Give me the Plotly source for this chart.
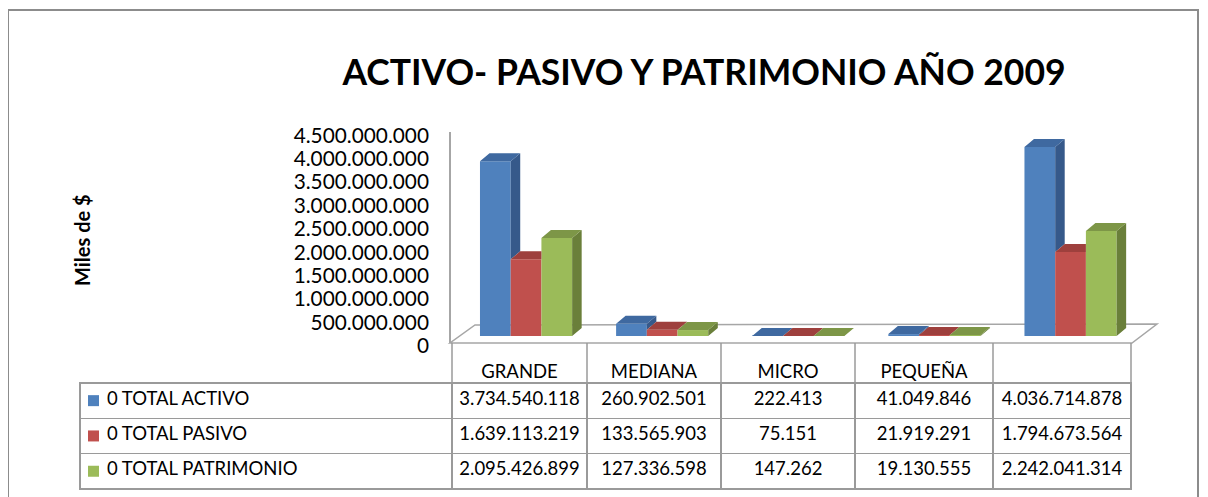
import plotly.graph_objects as go

# datos
categorias = ["GRANDE", "MEDIANA", "MICRO", "PEQUEÑA", ""]
series = ["0 TOTAL ACTIVO", "0 TOTAL PASIVO", "0 TOTAL PATRIMONIO"]
total_activo = [3734540118, 260902501, 222413, 41049846, 4036714878]
total_pasivo = [1639113219, 133565903, 75151, 21919291, 1794673564]
total_patrimonio = [2095426899, 127336598, 147262, 19130555, 2242041314]
y_ticks = [i * 500000000 for i in range(10)]

colores = ["#4F81BD", "#C0504D", "#9BBB59"]
lados = ["#36598A", "#8C3836", "#6A7F3A"]
techos = ["#3F69A0", "#9E403D", "#7D9647"]

# la pagina deja 8px de margen alrededor de la figura
OFF = 8
W, H = 1200, 489
FONT = "Lato"


def px(x):
    return (x - OFF) / W


def py(y):
    return 1 - (y - OFF) / H


valores = [total_activo, total_pasivo, total_patrimonio]

# geometria de las barras (unidades de eje)
bargap = 0.323
ancho = (1 - bargap) / 3
dx = 0.07           # profundidad en x
dy = 1.71e8         # profundidad en y

fig = go.Figure()

for k, nombre in enumerate(series):
    fig.add_trace(go.Bar(
        x=list(range(len(categorias))),
        y=valores[k],
        name=nombre,
        marker=dict(color=colores[k], line=dict(width=0)),
        hoverinfo='skip',
        showlegend=False
    ))

# caras laterales y superiores (efecto 3D)
for k in range(3):
    sx, sy, tx, ty = [], [], [], []
    for j in range(len(categorias)):
        v = valores[k][j]
        xc = j + (k - 1) * ancho
        xl, xr = xc - ancho / 2, xc + ancho / 2
        v_sig = valores[k + 1][j] if k < 2 else None
        if v_sig is None:
            sx += [xr, xr, xr + dx, xr + dx, xr, None]
            sy += [0, v, v + dy, dy, 0, None]
            tx += [xl, xr, xr + dx, xl + dx, xl, None]
            ty += [v, v, v + dy, v + dy, v, None]
        elif v_sig >= v + dy:
            tx += [xl, xr, xr, xl + dx, xl, None]
            ty += [v, v, v + dy, v + dy, v, None]
        else:
            if v_sig < v:
                sx += [xr, xr, xr + dx, xr + dx, xr, None]
                sy += [v_sig, v, v + dy, v_sig + dy, v_sig, None]
            tx += [xl, xr, xr + dx, xl + dx, xl, None]
            ty += [v, v, v + dy, v + dy, v, None]
    if sx:
        fig.add_trace(go.Scatter(x=sx, y=sy, mode='lines', fill='toself',
                                 fillcolor=lados[k], line=dict(width=0),
                                 hoverinfo='skip', showlegend=False))
    fig.add_trace(go.Scatter(x=tx, y=ty, mode='lines', fill='toself',
                             fillcolor=techos[k], line=dict(width=0),
                             hoverinfo='skip', showlegend=False))


# tabla de datos
def fmt(n):
    return f"{n:,}".replace(",", ".")


NB = "\u00a0"
etiquetas = [NB * 4 + s.replace(" ", NB) for s in series]
columnas = [etiquetas] + [[fmt(valores[k][j]) for k in range(3)] for j in range(len(categorias))]
borde = "#9A9A9A"
anchos = [372, 135, 134, 134, 138, 138]

TAB_LEFT, TAB_RIGHT = 80, 1131
PISO, TAB_TOP, HEAD_H, ROW_H = 343, 356, 27, 35.3
fig.add_trace(go.Table(
    domain=dict(x=[px(TAB_LEFT), px(TAB_RIGHT)],
                y=[py(TAB_TOP + HEAD_H + 3 * ROW_H + 2), py(TAB_TOP)]),
    columnwidth=anchos,
    header=dict(
        values=[""] + categorias,
        fill_color="rgba(0,0,0,0)",
        line=dict(color="rgba(0,0,0,0)", width=0),
        align="center",
        font=dict(family=FONT, size=18.5, color="black"),
        height=HEAD_H
    ),
    cells=dict(
        values=columnas,
        fill_color="white",
        line=dict(color=borde, width=1.5),
        align=["left"] + ["center"] * 5,
        font=dict(family=FONT, size=18.5, color="black"),
        height=ROW_H
    )
))

shapes = [
    # piso
    dict(type="path", xref="paper", yref="paper", layer="below",
         path=f"M {px(450)} {py(343)} L {px(1132)} {py(343)} L {px(1157)} {py(324)} "
              f"L {px(475)} {py(325)} Z",
         line=dict(color="#A6A6A6", width=1.5), fillcolor="white"),
    # eje vertical
    dict(type="line", xref="paper", yref="paper", layer="below",
         x0=px(450), x1=px(450), y0=py(132), y1=py(343),
         line=dict(color="#A6A6A6", width=2)),
    # marco
    dict(type="rect", xref="paper", yref="paper",
         x0=px(8), x1=px(1198), y0=py(520), y1=py(10),
         line=dict(color="#8C8C8C", width=2)),
]

# separadores de categorias bajo el piso
escala = (TAB_RIGHT - TAB_LEFT) / sum(anchos)
xs = TAB_LEFT + anchos[0] * escala
for a in [0] + anchos[1:]:
    xs += a * escala
    shapes.append(dict(type="line", xref="paper", yref="paper",
                       x0=px(xs), x1=px(xs), y0=py(TAB_TOP + HEAD_H), y1=py(PISO),
                       line=dict(color=borde, width=1.5)))

# claves de color de la tabla
for k in range(3):
    yc = TAB_TOP + HEAD_H + ROW_H * (k + 0.5)
    shapes.append(dict(type="rect", xref="paper", yref="paper",
                       x0=px(88), x1=px(99), y0=py(yc + 5.5), y1=py(yc - 5.5),
                       fillcolor=colores[k], line=dict(width=0)))

fig.update_layout(
    width=W, height=H,
    margin=dict(l=0, r=0, t=0, b=0, autoexpand=False),
    paper_bgcolor="white", plot_bgcolor="rgba(0,0,0,0)",
    barmode="group", bargap=bargap, bargroupgap=0,
    separators=",.",
    font=dict(family=FONT, color="black"),
    title=dict(text="<b>ACTIVO- PASIVO Y PATRIMONIO AÑO 2009</b>",
               x=px(704), y=py(73), xanchor="center", yanchor="middle",
               font=dict(family=FONT, size=35.5, color="black")),
    xaxis=dict(domain=[px(458), px(1138.6)], range=[-0.5, 4.5], visible=False),
    yaxis=dict(domain=[py(336), py(125.4)], range=[0, 4.5e9],
               tickvals=y_ticks, tickformat=",d",
               showgrid=False, zeroline=False, showline=False, ticks="",
               ticklabelshift=10, ticklabelstandoff=28, automargin=False,
               tickfont=dict(family=FONT, size=20.8, color="black")),
    shapes=shapes,
    annotations=[dict(text="<b>Miles de $</b>", xref="paper", yref="paper",
                      x=px(82), y=py(240), xanchor="center", yanchor="middle",
                      textangle=-90, showarrow=False,
                      font=dict(family=FONT, size=20, color="black"))],
)

fig.write_html("out.html")
